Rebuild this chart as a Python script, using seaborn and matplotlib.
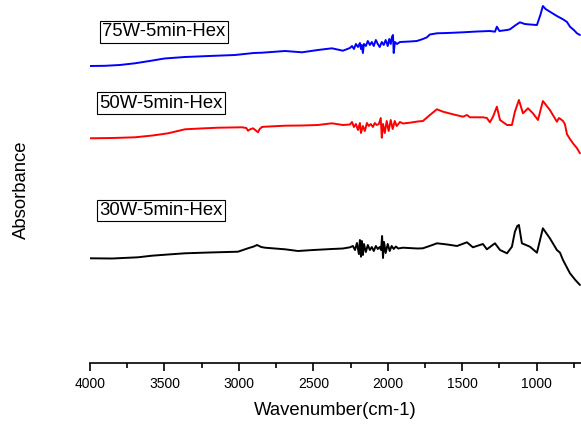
import numpy as np
import pandas as pd
import matplotlib
matplotlib.use("Agg")
import matplotlib.pyplot as plt
from matplotlib.ticker import MultipleLocator
import seaborn as sns

# ---------------- data ----------------
wn_75 = [4000, 3900, 3800, 3698, 3600, 3500, 3362, 3200, 3026, 2900,
         2845, 2690, 2576, 2469, 2375, 2301, 2254, 2240, 2227, 2214,
         2200, 2187, 2180, 2174, 2167, 2160, 2147, 2134, 2120, 2107,
         2094, 2080, 2067, 2054, 2040, 2027, 2014, 2000, 1990, 1980,
         1972, 1965, 1960, 1952, 1938, 1918, 1851, 1804, 1764, 1737,
         1717, 1670, 1600, 1495, 1400, 1314, 1280, 1267, 1250, 1199,
         1179, 1140, 1112, 1080, 1045, 998, 975, 958, 940, 911,
         864, 823, 796, 776, 750, 729, 709]
ab_75 = [2.97, 2.972, 2.98, 2.997, 3.02, 3.045, 3.06, 3.07, 3.08, 3.10,
         3.103, 3.12, 3.107, 3.13, 3.147, 3.123, 3.15, 3.17, 3.14, 3.19,
         3.16, 3.20, 3.14, 3.18, 3.10, 3.19, 3.17, 3.22, 3.18, 3.21,
         3.17, 3.23, 3.19, 3.16, 3.21, 3.18, 3.23, 3.17, 3.24, 3.19,
         3.26, 3.28, 3.10, 3.21, 3.19, 3.21, 3.215, 3.22, 3.24, 3.257,
         3.285, 3.297, 3.30, 3.307, 3.315, 3.32, 3.313, 3.363, 3.32, 3.33,
         3.337, 3.38, 3.407, 3.39, 3.385, 3.38, 3.48, 3.57, 3.54, 3.513,
         3.47, 3.437, 3.41, 3.363, 3.33, 3.297, 3.28]

wn_50 = [4000, 3850, 3698, 3580, 3476, 3362, 3260, 3140, 2979, 2950,
         2939, 2920, 2905, 2890, 2872, 2860, 2845, 2825, 2690, 2576,
         2469, 2375, 2301, 2254,
         2240, 2227, 2214, 2200, 2187, 2180, 2167, 2154, 2140, 2127,
         2114, 2100, 2087, 2074, 2060, 2047, 2040, 2032, 2020, 2007,
         1994, 1980, 1967, 1953, 1940, 1918, 1898, 1851, 1800, 1764,
         1717, 1670, 1629, 1562, 1495, 1468, 1448, 1361, 1334, 1314,
         1293, 1267, 1246, 1199, 1166, 1146, 1119, 1092, 1058, 1025,
         991, 958, 911, 864, 850, 837, 823, 810, 796, 776,
         756, 730, 709]
ab_50 = [2.247, 2.25, 2.257, 2.275, 2.297, 2.337, 2.345, 2.353, 2.357, 2.35,
         2.323, 2.34, 2.347, 2.33, 2.307, 2.34, 2.36, 2.363, 2.373, 2.375,
         2.38, 2.397, 2.38, 2.385,
         2.41, 2.36, 2.39, 2.33, 2.40, 2.30, 2.37, 2.32, 2.40, 2.37,
         2.39, 2.36, 2.40, 2.38, 2.39, 2.45, 2.253, 2.39, 2.30, 2.42,
         2.32, 2.43, 2.34, 2.42, 2.37, 2.41, 2.395, 2.403, 2.415, 2.42,
         2.48, 2.537, 2.513, 2.487, 2.463, 2.48, 2.457, 2.457, 2.45, 2.407,
         2.463, 2.563, 2.43, 2.38, 2.38, 2.513, 2.63, 2.497, 2.547, 2.497,
         2.43, 2.62, 2.53, 2.413, 2.45, 2.437, 2.42, 2.387, 2.287, 2.24,
         2.197, 2.15, 2.097]

wn_30 = [4000, 3850, 3678, 3584, 3476, 3362, 3200, 3006, 2939, 2900,
         2878, 2850, 2825, 2690, 2603, 2500, 2375, 2301, 2254,
         2234, 2220, 2207, 2194, 2187, 2180, 2174, 2167, 2160, 2147,
         2134, 2120, 2107, 2094, 2080, 2067, 2054, 2045, 2038, 2032,
         2025, 2014, 2000, 1987, 1974, 1960, 1945, 1930, 1898, 1800,
         1764, 1700, 1670, 1600, 1535, 1468, 1428, 1361, 1334, 1280,
         1246, 1199, 1166, 1146, 1130, 1119, 1099, 1045, 998, 958,
         911, 864, 843, 823, 776, 740, 709]
ab_30 = [1.047, 1.045, 1.057, 1.073, 1.085, 1.097, 1.105, 1.113, 1.147, 1.165,
         1.18, 1.16, 1.153, 1.137, 1.12, 1.13, 1.14, 1.145, 1.157,
         1.17, 1.13, 1.20, 1.09, 1.23, 1.063, 1.22, 1.08, 1.19, 1.11,
         1.18, 1.13, 1.16, 1.12, 1.17, 1.14, 1.16, 1.13, 1.27, 1.05,
         1.21, 1.10, 1.19, 1.12, 1.17, 1.14, 1.165, 1.145, 1.153, 1.145,
         1.147, 1.18, 1.197, 1.185, 1.17, 1.207, 1.157, 1.19, 1.137, 1.197,
         1.13, 1.097, 1.163, 1.313, 1.37, 1.38, 1.197, 1.163, 1.103, 1.347,
         1.247, 1.13, 1.103, 1.03, 0.897, 0.83, 0.78]

series_names = ["75W-5min-Hex", "50W-5min-Hex", "30W-5min-Hex"]
series_colors = ["#0000ff", "#ff0000", "#000000"]
xticks = [4000, 3500, 3000, 2500, 2000, 1500, 1000]

# ---------------- figure ----------------
sns.set_style("white")
plt.rcParams["font.family"] = ["Liberation Sans", "DejaVu Sans"]
plt.rcParams["text.color"] = "black"
plt.rcParams["axes.labelcolor"] = "black"
plt.rcParams["xtick.color"] = "black"
plt.rcParams["xtick.labelcolor"] = "black"

fig = plt.figure(figsize=(5.81, 4.26), dpi=100)
ax = fig.add_axes([90 / 581, 1 - 363 / 426, 491 / 581, 363 / 426])

frames = []
for name, w, a in zip(series_names, [wn_75, wn_50, wn_30], [ab_75, ab_50, ab_30]):
    frames.append(pd.DataFrame({"wn": w, "ab": a, "sample": name}))
df = pd.concat(frames, ignore_index=True)

sns.lineplot(data=df, x="wn", y="ab", hue="sample", palette=series_colors,
             hue_order=series_names, estimator=None, sort=True,
             linewidth=1.4, legend=False, ax=ax)

ax.set_xlim(4000, 702)
ax.set_ylim(0, 3.63)
ax.set_xticks(xticks)
ax.set_xticklabels([str(t) for t in xticks])
ax.xaxis.set_minor_locator(MultipleLocator(250))
ax.set_yticks([])

for s in ["top", "right", "left"]:
    ax.spines[s].set_visible(False)
ax.spines["bottom"].set_linewidth(1.2)
ax.spines["bottom"].set_color("black")

ax.tick_params(axis="x", which="major", direction="out", length=6, width=1.2,
               labelsize=10, pad=4, bottom=True, color="black", labelcolor="black")
ax.tick_params(axis="x", which="minor", direction="out", length=3.5, width=1.2,
               bottom=True, color="black")

ax.set_xlabel("Wavenumber(cm-1)", fontsize=13.3, labelpad=8, color="black")
ax.set_ylabel("Absorbance", fontsize=13.3, color="black")
ax.yaxis.set_label_coords(-0.122, 0.477)

label_pos = [(0.1507, 0.912), (0.1446, 0.716), (0.1446, 0.4196)]
for name, (xp, yp) in zip(series_names, label_pos):
    ax.text(xp, yp, name, transform=ax.transAxes, ha="center", va="center",
            fontsize=13.3, color="black",
            bbox=dict(boxstyle="square,pad=0.12", fc="white", ec="black", lw=0.8))

fig.savefig("out.png", dpi=100)
